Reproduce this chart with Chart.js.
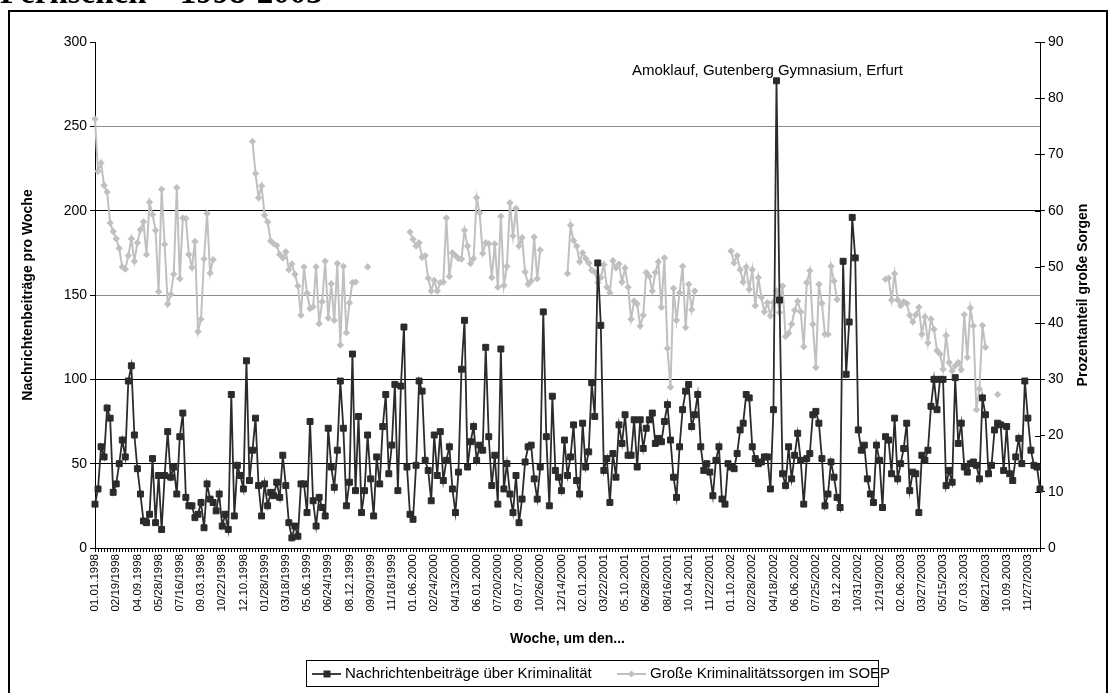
<!DOCTYPE html>
<html>
<head>
<meta charset="utf-8">
<script src="https://cdn.jsdelivr.net/npm/chart.js@4.4.1/dist/chart.umd.min.js"></script>
<style>
  html, body { margin: 0; padding: 0; background: #fff; }
  #chart { display: block; }
</style>
</head>
<body>
<canvas id="chart" width="1110" height="693"></canvas>
<script>
const FONT = '"Liberation Sans", Arial, sans-serif';

// Texte
const pageTitle = 'Fernsehen – 1998-2003';
const yTitleLeft = 'Nachrichtenbeiträge pro Woche';
const yTitleRight = 'Prozentanteil große Sorgen';
const xTitle = 'Woche, um den...';
const newsLabel = 'Nachrichtenbeiträge über Kriminalität';
const soepLabel = 'Große Kriminalitätssorgen im SOEP';
const eventText = 'Amoklauf, Gutenberg Gymnasium, Erfurt';
const eventWeek = 225;

// Achsenbeschriftung: jede 7. Woche
const tickLabels = [
  '01.01.1998', '02/19/1998', '04.09.1998', '05/28/1998', '07/16/1998', '09.03.1998', '10/22/1998', '12.10.1998',
  '01/28/1999', '03/18/1999', '05.06.1999', '06/24/1999', '08.12.1999', '09/30/1999', '11/18/1999',
  '01.06.2000', '02/24/2000', '04/13/2000', '06.01.2000', '07/20/2000', '09.07.2000', '10/26/2000', '12/14/2000',
  '02.01.2001', '03/22/2001', '05.10.2001', '06/28/2001', '08/16/2001', '10.04.2001', '11/22/2001',
  '01.10.2002', '02/28/2002', '04/18/2002', '06.06.2002', '07/25/2002', '09.12.2002', '10/31/2002', '12/19/2002',
  '02.06.2003', '03/27/2003', '05/15/2003', '07.03.2003', '08/21/2003', '10.09.2003', '11/27/2003'
];

// Nachrichtenbeiträge pro Woche, nach Jahr
const news1998 = [26, 35, 60, 54, 83, 77, 33, 38, 50, 64, 54, 99, 108, 67, 47, 32, 16, 15, 20, 53,
  15, 43, 11, 43, 69, 42, 48, 32, 66, 80, 30, 25, 25, 18, 20, 27, 12, 38, 29, 27,
  22, 32, 13, 20, 11, 91, 19, 49, 43, 35, 111, 40];
const news1999 = [58, 77, 37, 19, 38, 25, 33, 31, 39, 30, 55, 37, 15, 6, 13, 7, 38, 38,
  21, 75, 28, 13, 30, 24, 19, 71, 48, 36, 58, 99, 71, 25, 39, 115, 34, 78, 21, 34,
  67, 41, 19, 54, 38, 72, 91, 44, 61, 97, 34, 96, 131, 48];
const news2000 = [20, 17, 49, 99, 93, 52, 46, 28, 67, 43, 69, 40, 52, 60, 35, 21,
  45, 106, 135, 48, 63, 72, 52, 61, 58, 119, 66, 37, 55, 26, 118, 35, 50, 32, 21, 43,
  15, 29, 51, 60, 61, 41, 29, 48, 140, 66, 25, 90, 46, 42, 34, 64];
const news2001 = [43, 54, 73, 40, 32, 74, 48, 57, 98, 78, 169, 132, 46, 53,
  27, 56, 42, 73, 62, 79, 55, 55, 76, 48, 76, 59, 71, 76, 80, 62, 65, 63, 75, 85,
  64, 42, 30, 60, 82, 93, 97, 72, 79, 91, 60, 46, 50, 45, 31, 52, 60, 29];
const news2002 = [26, 50, 48, 47, 56, 70, 74, 91, 89, 60, 53, 50,
  51, 54, 54, 35, 82, 277, 147, 44, 37, 60, 41, 55, 68, 52, 26, 53, 56, 79, 81, 74,
  53, 25, 32, 51, 42, 30, 24, 170, 103, 134, 196, 172, 70, 58, 61, 41, 32, 27, 61, 52];
const news2003 = [24, 66, 64, 44, 77, 41, 50, 59, 74, 34, 45, 44, 21, 55, 52, 58, 84, 100, 82, 100,
  100, 37, 46, 39, 101, 62, 74, 48, 45, 50, 51, 49, 41, 89, 79, 44, 49, 70, 74, 73,
  46, 72, 44, 40, 54, 65, 50, 99, 77, 58, 49, 48, 35];

// SOEP: Anteil große Sorgen (%), Befragungswellen mit Startwoche
const soep1998 = [76.3, 67, 68.5, 64.5, 63.3, 57.8, 56.3, 55, 53.3, 50, 49.6, 52, 55, 51, 54.3, 56.6, 58, 52.2, 61.5, 59.3,
  56.5, 45.6, 63.8, 54, 43.4, 45.1, 48.7, 64.1, 47.9, 58.7, 58.6, 52.2, 49.9, 54.5, 38.5, 40.7, 51.4, 59.5, 48.9, 51.3];
const soep1999 = [72.3, 66.6, 62.3, 64.4, 59.2, 58, 54.6, 54.1, 53.8, 52.2, 51.6, 52.7, 49.5, 50.5, 48.7, 46.6, 41.4, 50,
  45.3, 42.6, 42.9, 50, 39.9, 43.8, 51, 40.9, 47, 40.5, 50.6, 36.1, 50.1, 38.3, 43.6, 47.2, 47.3];
const soep1999late = [50];
const soep2000 = [56.2, 54.9, 53.7, 54.3, 51.7, 52, 48, 45.7, 47.6, 45.7, 47.2, 47.3, 58.7, 48.3, 52.5, 52, 51.5, 51.4,
  56.5, 53.7, 50.6, 51.5, 62.3, 59.6, 52.4, 54.3, 54.1, 48.1, 54.1, 46.4, 59, 46.7, 50.1, 61.4, 55.5, 60.4, 53.7, 55.2,
  49.1, 46.9, 47.5, 55.3, 47.9, 53];
const soep2001 = [48.8, 57.4, 54.7, 53.7, 50.9, 52.5, 51.5, 50.7, 49.4, 49.1, 47.2, 48.1, 50.4, 46.4, 45.4, 51.1, 49.8,
  50.5, 47.3, 49.8, 46.4, 40.7, 43.9, 43.4, 39.5, 41.4, 49, 48.3, 45.7, 49, 50.9, 42.8, 51.6, 35.5, 28.6, 46.2, 40.5,
  45.4, 50.1, 39.2, 46.9, 42.4, 45.7];
const soep2002 = [52.8, 50.7, 52, 49.5, 47.3, 50, 46, 49.5, 43.1, 48.1, 44.6, 42, 43.6, 41.3, 43.7, 45.7, 41.9, 46.6,
  37.6, 38.2, 39.8, 42.3, 43.9, 42, 35.8, 47.2, 49.3, 39.8, 32.1, 46.9, 43.5, 38, 38, 50.1, 47.5, 44.2];
const soep2003 = [47.8, 48, 44.1, 48.8, 44.1, 43.1, 43.8, 43.5, 41.4, 40.2, 41.5, 42.8, 38, 41.1, 36.5, 40.7, 38.9,
  35.1, 34.5, 31.8, 37.8, 33, 31.5, 32.4, 33, 31.7, 41.5, 33.9, 42.7, 39.5, 24.6, 28.3, 39.6, 35.7];
const soep2003late = [27.3];
const soepWaves = [soep1998, soep1999, soep1999late, soep2000, soep2001, soep2002, soep2003, soep2003late];
const soepStart = [0, 52, 90, 104, 156, 210, 261, 298];

const news = [].concat(news1998, news1999, news2000, news2001, news2002, news2003);
const weeks = news.map((_, i) => i);
const soep = weeks.map(() => null);
soepWaves.forEach((wave, w) => {
  wave.forEach((v, k) => { soep[soepStart[w] + k] = v; });
});

// Rahmen, Überschrift, Legende, Annotation
const decor = {
  id: 'decor',
  afterDatasetsDraw(chart) {
    const ctx = chart.ctx;
    const x = chart.scales.x.getPixelForValue(eventWeek);
    const y = chart.scales.y.getPixelForValue(news[eventWeek]);
    ctx.save();
    ctx.fillStyle = '#000';
    ctx.font = '15px ' + FONT;
    ctx.textAlign = 'center';
    ctx.textBaseline = 'middle';
    ctx.fillText(eventText, x - 9, y - 10);
    ctx.restore();
  },
  afterDraw(chart) {
    const ctx = chart.ctx;
    const area = chart.chartArea;
    const y1 = chart.scales.y1;
    ctx.save();
    ctx.fillStyle = '#000';
    ctx.font = 'bold 33px "Liberation Serif", serif';
    ctx.textAlign = 'left';
    ctx.textBaseline = 'alphabetic';
    ctx.fillText(pageTitle, 0, 3);

    ctx.strokeStyle = '#000';
    ctx.lineWidth = 2;
    ctx.strokeRect(9, 11, 1098, 720);

    // Skalenstriche der rechten Achse kreuzen die Achse
    ctx.lineWidth = 1;
    y1.ticks.forEach(t => {
      const py = Math.round(y1.getPixelForValue(t.value)) + 0.5;
      ctx.beginPath(); ctx.moveTo(area.right - 5, py); ctx.lineTo(area.right, py); ctx.stroke();
    });

    // rechter Achsentitel
    ctx.save();
    ctx.translate(1083, (area.top + area.bottom) / 2);
    ctx.rotate(-Math.PI / 2);
    ctx.font = 'bold 14px ' + FONT;
    ctx.textAlign = 'center';
    ctx.textBaseline = 'middle';
    ctx.fillText(yTitleRight, 0, 0);
    ctx.restore();

    // Legende
    ctx.lineWidth = 1;
    ctx.strokeRect(306.5, 660.5, 572, 26);
    const ly = 674;
    ctx.font = '15px ' + FONT;
    ctx.textBaseline = 'middle';
    ctx.strokeStyle = '#2b2b2b';
    ctx.lineWidth = 1.8;
    ctx.beginPath(); ctx.moveTo(312, ly); ctx.lineTo(341, ly); ctx.stroke();
    ctx.fillStyle = '#2b2b2b';
    ctx.fillRect(323.5, ly - 3.5, 7, 7);
    ctx.fillStyle = '#000';
    ctx.fillText(newsLabel, 345, ly);
    ctx.strokeStyle = '#c0c0c0';
    ctx.lineWidth = 2;
    ctx.beginPath(); ctx.moveTo(617, ly); ctx.lineTo(646, ly); ctx.stroke();
    ctx.fillStyle = '#c0c0c0';
    ctx.beginPath();
    ctx.moveTo(631.5, ly - 3.5); ctx.lineTo(635, ly); ctx.lineTo(631.5, ly + 3.5); ctx.lineTo(628, ly);
    ctx.closePath(); ctx.fill();
    ctx.fillStyle = '#000';
    ctx.fillText(soepLabel, 650, ly);
    ctx.restore();
  }
};

const ctx = document.getElementById('chart').getContext('2d');
const chart = new Chart(ctx, {
  type: 'line',
  data: {
    labels: weeks,
    datasets: [{
      label: newsLabel,
      data: news,
      yAxisID: 'y',
      borderColor: '#2b2b2b',
      borderWidth: 1.8,
      pointStyle: 'rect',
      pointRadius: 4.2,
      pointBorderWidth: 1,
      pointBackgroundColor: '#2b2b2b',
      pointBorderColor: '#2b2b2b',
      tension: 0
    }, {
      label: soepLabel,
      data: soep,
      yAxisID: 'y1',
      borderColor: '#c0c0c0',
      borderWidth: 2,
      pointStyle: 'rectRot',
      pointRadius: 3.2,
      pointBorderWidth: 1,
      pointBackgroundColor: '#c0c0c0',
      pointBorderColor: '#c0c0c0',
      spanGaps: false,
      tension: 0
    }]
  },
  options: {
    responsive: false,
    animation: false,
    devicePixelRatio: 1,
    layout: { padding: { left: 16, top: 42, right: 0, bottom: 41 } },
    plugins: { legend: { display: false }, tooltip: { enabled: false } },
    scales: {
      x: {
        type: 'category',
        offset: false,
        grid: { display: true, drawOnChartArea: false, drawTicks: true, tickLength: 4, color: '#000' },
        border: { display: true, color: '#000', width: 1 },
        ticks: {
          autoSkip: false, maxRotation: 90, minRotation: 90, padding: 2, color: '#000',
          font: { family: FONT, size: 11.5 },
          callback: (v, i) => (i % 7 === 0 ? tickLabels[i / 7] : '')
        },
        title: { display: true, text: xTitle, color: '#000', font: { family: FONT, size: 14, weight: 'bold' } },
        afterFit: s => { s.height = 104; }
      },
      y: {
        position: 'left',
        min: 0, max: 300,
        ticks: { stepSize: 50, color: '#000', font: { family: FONT, size: 14 } },
        grid: {
          color: c => (c.tick.value === 300 ? 'rgba(0,0,0,0)' : (c.tick.value === 150 || c.tick.value === 250 ? '#8c8c8c' : '#000')),
          tickColor: '#000', tickLength: 5, lineWidth: 1
        },
        border: { display: true, color: '#000', width: 1 },
        title: { display: true, text: yTitleLeft, color: '#000', font: { family: FONT, size: 14, weight: 'bold' } },
        afterFit: s => { s.width = 79; }
      },
      y1: {
        position: 'right',
        min: 0, max: 90,
        ticks: { stepSize: 10, color: '#000', font: { family: FONT, size: 14 } },
        grid: { drawOnChartArea: false, tickColor: '#000', tickLength: 5 },
        border: { display: true, color: '#000', width: 1 },
        afterFit: s => { s.width = 70; }
      }
    }
  },
  plugins: [decor]
});
</script>
</body>
</html>
